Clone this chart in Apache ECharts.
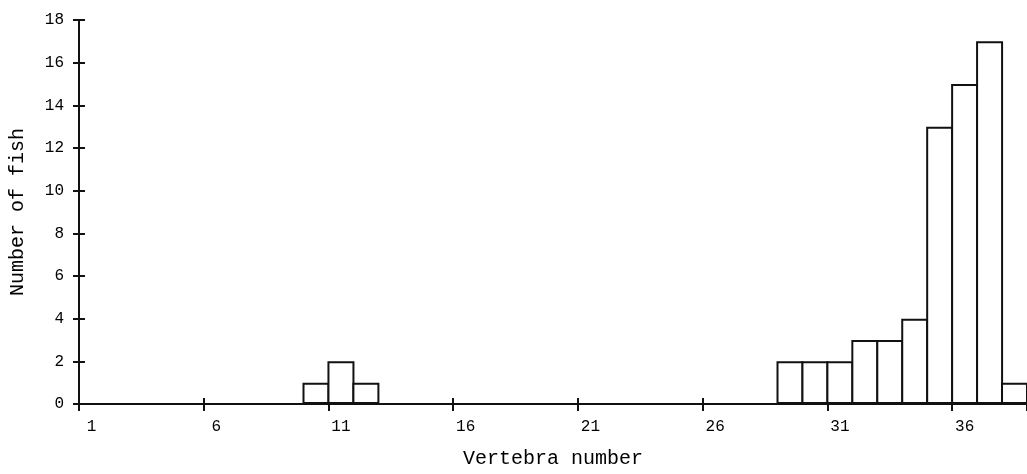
<!DOCTYPE html>
<html>
<head>
<meta charset="utf-8">
<script src="https://cdn.jsdelivr.net/npm/echarts@6/dist/echarts.min.js"></script>
<style>
html,body{margin:0;padding:0;background:#fff;}
#chart{width:1027px;height:474px;}
</style>
</head>
<body>
<div id="chart"></div>
<script>
// Vertebra number categories (1..38)
const vertebraNumbers = ['1','2','3','4','5','6','7','8','9','10','11','12','13','14','15','16','17','18','19','20','21','22','23','24','25','26','27','28','29','30','31','32','33','34','35','36','37','38'];
// Number of fish per vertebra number
const fishCounts = [0,0,0,0,0,0,0,0,0,1,2,1,0,0,0,0,0,0,0,0,0,0,0,0,0,0,0,0,2,2,2,3,3,4,13,15,17,1];
const yTicks = [0,2,4,6,8,10,12,14,16,18];

const FONT = '"Liberation Mono", "DejaVu Sans Mono", monospace';
const chart = echarts.init(document.getElementById('chart'));
const baseX = {
  type: 'category',
  data: vertebraNumbers,
  position: 'bottom',
  boundaryGap: true
};
chart.setOption({
  backgroundColor: '#fff',
  animation: false,
  grid: { left: 78, top: 20, width: 950, height: 390 },
  xAxis: [
    Object.assign({}, baseX, {
      name: 'Vertebra number',
      nameLocation: 'middle',
      nameGap: 45,
      nameTextStyle: { fontFamily: FONT, fontSize: 20, color: '#000' },
      axisLine: { lineStyle: { color: '#111', width: 2 } },
      axisTick: { show: true, interval: 4, length: 7, lineStyle: { color: '#111', width: 2 } },
      axisLabel: { interval: 4, margin: 15, fontFamily: FONT, fontSize: 16, color: '#000' }
    }),
    Object.assign({}, baseX, {
      axisLine: { show: false },
      axisTick: { show: true, inside: true, interval: 4, length: 6, lineStyle: { color: '#111', width: 2 } },
      axisLabel: { show: false }
    })
  ],
  yAxis: [
    {
      type: 'value', min: yTicks[0], max: yTicks[yTicks.length - 1], interval: 2,
      name: 'Number of fish',
      nameLocation: 'middle',
      nameRotate: 90,
      nameGap: 51,
      nameTextStyle: { fontFamily: FONT, fontSize: 20, color: '#000' },
      splitLine: { show: false },
      axisLine: { show: true, lineStyle: { color: '#111', width: 2 } },
      axisTick: { show: true, length: 6, lineStyle: { color: '#111', width: 2 } },
      axisLabel: { margin: 15, fontFamily: FONT, fontSize: 16, color: '#000' }
    },
    {
      type: 'value', min: yTicks[0], max: yTicks[yTicks.length - 1], interval: 2,
      position: 'left',
      splitLine: { show: false },
      axisLine: { show: false },
      axisTick: { show: true, inside: true, length: 6, lineStyle: { color: '#111', width: 2 } },
      axisLabel: { show: false }
    }
  ],
  series: [{
    type: 'bar',
    data: fishCounts,
    barWidth: 27,
    itemStyle: { color: '#fff', borderColor: '#111', borderWidth: 2 }
  }]
});
</script>
</body>
</html>
